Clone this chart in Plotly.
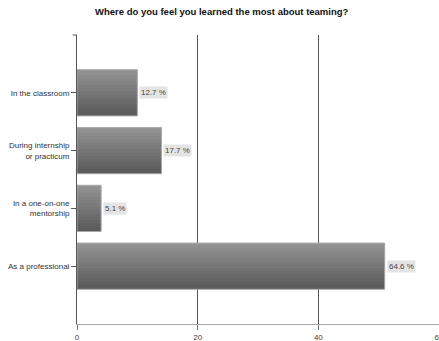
import plotly.graph_objects as go

# Survey responses: where people learned the most about teaming
categories = [
    "In the classroom",
    "During internship<br>or practicum",
    "In a one-on-one<br>mentorship",
    "As a professional",
]
counts = [10, 14, 4, 51]
total_respondents = 79
x_ticks = [0, 20, 40, 60]

percent_labels = [f"{c / total_respondents * 100:.1f} %" for c in counts]

FONT = "Liberation Sans, Arial, sans-serif"
fig = go.Figure()

# Bars drawn as overlapping horizontal strips for a light-to-dark vertical gradient
n_strips = 14
bar_w = 0.8
strip_w = bar_w / n_strips
overlap = 0.025
top_rgb = (148, 148, 148)
bot_rgb = (92, 92, 92)
for i in range(n_strips):
    t = i / (n_strips - 1)
    rgb = tuple(int(round(a + (b - a) * t)) for a, b in zip(top_rgb, bot_rgb))
    ov = overlap if i > 0 else 0
    fig.add_trace(go.Bar(
        x=counts, y=categories, orientation="h",
        width=strip_w + ov,
        offset=-bar_w / 2 + i * strip_w - ov,
        marker=dict(color=f"rgb{rgb}", line=dict(width=0)),
        hoverinfo="skip", showlegend=False,
    ))

# Outline of each bar
fig.add_trace(go.Bar(
    x=counts, y=categories, orientation="h",
    width=bar_w, offset=-bar_w / 2,
    marker=dict(color="rgba(0,0,0,0)", line=dict(color="#a8a8a8", width=1)),
    showlegend=False,
))

# Percentage labels in grey boxes next to each bar
for cat, c, lab in zip(categories, counts, percent_labels):
    fig.add_annotation(
        x=c, y=cat, text=lab, showarrow=False,
        xanchor="left", xshift=2, yanchor="middle",
        bgcolor="#e4e4e4", borderpad=1,
        font=dict(family=FONT, size=8, color="#444"),
    )

# Small tick at the top of the value-axis frame
fig.add_shape(type="line", xref="paper", yref="paper",
              x0=-0.012, x1=0, y0=1, y1=1,
              line=dict(color="#555", width=1))

fig.update_layout(
    width=439, height=341,
    margin=dict(l=77, r=0, t=35, b=17),
    paper_bgcolor="white", plot_bgcolor="white",
    barmode="overlay",
    title=dict(
        text="<b>Where do you feel you learned the most about teaming?</b>",
        x=0.505, xanchor="center", y=0.965, yanchor="middle",
        font=dict(family=FONT, size=9.5, color="#111"),
    ),
    font=dict(family=FONT, size=8, color="#333"),
    xaxis=dict(
        range=[0, 60], tickvals=x_ticks,
        showgrid=True, gridcolor="#555", gridwidth=1,
        zeroline=False, showline=True, linecolor="#aaa", linewidth=1,
        ticks="outside", ticklen=5, tickcolor="#777",
        tickfont=dict(family=FONT, size=8, color="#444"),
        ticklabeloverflow="allow",
        automargin=False,
    ),
    yaxis=dict(
        type="category", categoryorder="array", categoryarray=categories,
        range=[4, -1],
        showgrid=False, zeroline=False,
        showline=True, linecolor="#555", linewidth=1,
        ticks="outside", ticklen=5, tickcolor="#555",
        tickfont=dict(family=FONT, size=8, color="#333"),
        automargin=False,
    ),
)

fig.write_html("out.html")
